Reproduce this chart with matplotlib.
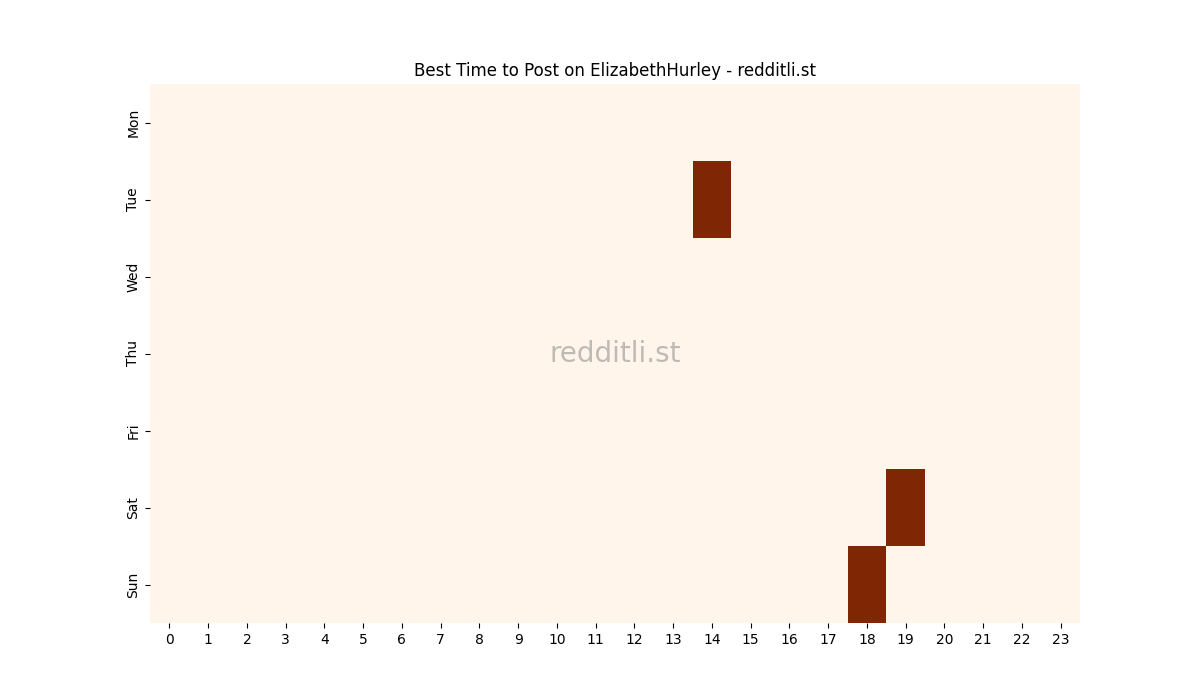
import matplotlib
matplotlib.use("Agg")
import matplotlib.pyplot as plt
import numpy as np
import seaborn as sns

days = ["Mon", "Tue", "Wed", "Thu", "Fri", "Sat", "Sun"]
hours = list(range(24))

# best posting slots (day, hour)
tue = [0] * 24
tue[14] = 1
sat = [0] * 24
sat[19] = 1
sun = [0] * 24
sun[18] = 1
empty = [0] * 24

values = np.array([empty, tue, empty, empty, empty, sat, sun])

fig, ax = plt.subplots(figsize=(12, 7), dpi=100)
sns.heatmap(values, cmap="Oranges", cbar=False, ax=ax,
            xticklabels=hours, yticklabels=days)
ax.set_yticklabels(days, rotation=90, va="center")
ax.set_xticklabels(hours, rotation=0)
ax.set_title("Best Time to Post on ElizabethHurley - redditli.st")
ax.text(0.5, 0.5, "redditli.st", transform=ax.transAxes, fontsize=20,
        color="grey", alpha=0.5, ha="center", va="center")

plt.savefig("out.png")
